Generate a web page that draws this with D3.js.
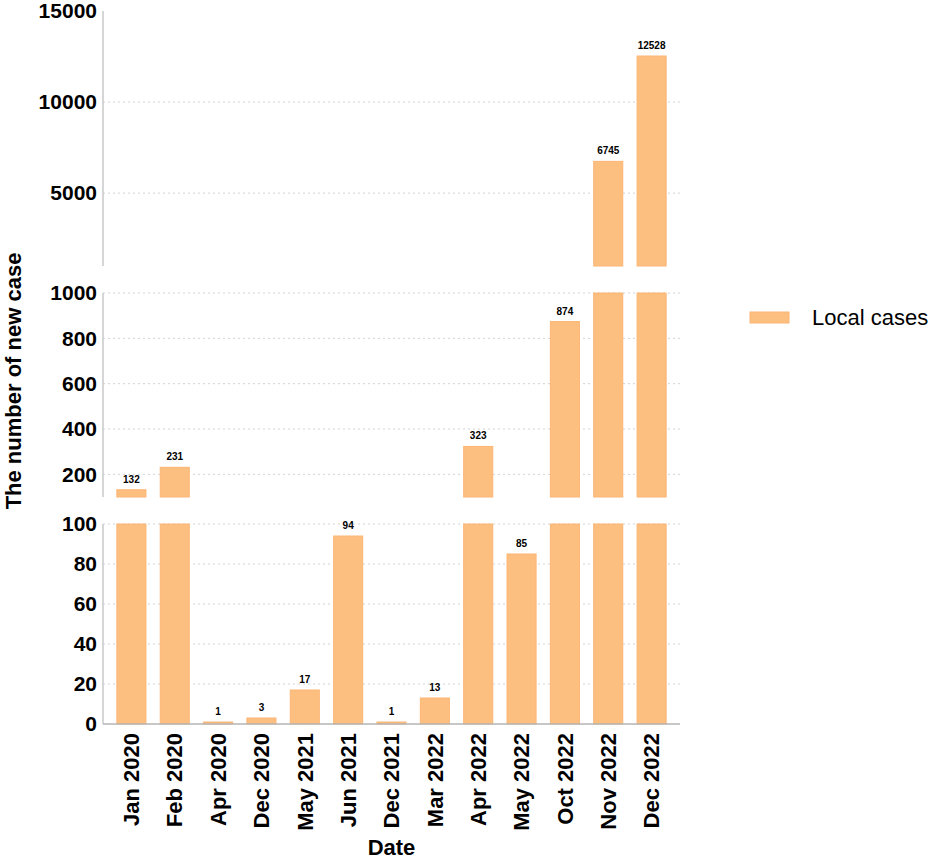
<!DOCTYPE html>
<html>
<head>
<meta charset="utf-8">
<script src="https://cdn.jsdelivr.net/npm/d3@7"></script>
<style>
  body { margin: 0; background: #fff; }
  svg text { font-family: "Liberation Sans", Arial, sans-serif; fill: #000; }
</style>
</head>
<body>
<div class="container"></div>
<script>
var months = ["Jan 2020","Feb 2020","Apr 2020","Dec 2020","May 2021","Jun 2021",
  "Dec 2021","Mar 2022","Apr 2022","May 2022","Oct 2022","Nov 2022","Dec 2022"];
var localCases = [132, 231, 1, 3, 17, 94, 1, 13, 323, 85, 874, 6745, 12528];

var lowDomain = [0, 100];
var midDomain = [100, 1000];
var topDomain = [1000, 15000];
var lowTicks = [0, 20, 40, 60, 80, 100];
var midTicks = [200, 400, 600, 800, 1000];
var topTicks = [5000, 10000, 15000];

const WIDTH = 935;
const HEIGHT = 860;
const LEFT = 103;
const RIGHT = 680;

var BAR_FILL = "#fdbf80";
var BAR_STROKE = "#fcb574";

// three stacked panels of the broken axis (top to bottom)
var panels = [
  {domain: topDomain, ticks: topTicks, range: [266, 11]},
  {domain: midDomain, ticks: midTicks, range: [497, 293]},
  {domain: lowDomain, ticks: lowTicks, range: [724, 524]}
];

var svg = d3.select('.container').append('svg')
  .attr('width', WIDTH)
  .attr('height', HEIGHT);

var xScale = d3.scaleBand()
  .domain(months)
  .range([LEFT, RIGHT])
  .paddingInner(0.33)
  .paddingOuter(0.32);

var drawPanel = function (panel) {
  var yScale = d3.scaleLinear()
    .domain(panel.domain)
    .range(panel.range);

  // dotted grid
  svg.append('g').selectAll('line')
    .data(panel.ticks.filter(function(d){ return d !== 0 && d !== topDomain[1]; }))
    .enter().append('line')
    .attr('x1', LEFT)
    .attr('x2', RIGHT)
    .attr('y1', function(d){ return yScale(d); })
    .attr('y2', function(d){ return yScale(d); })
    .attr('stroke', '#d3d3d3')
    .attr('stroke-width', 1)
    .attr('stroke-dasharray', '2,3');

  // left axis line for this piece
  svg.append('line')
    .attr('x1', LEFT).attr('x2', LEFT)
    .attr('y1', panel.range[0]).attr('y2', panel.range[1])
    .attr('stroke', '#c8c8c8')
    .attr('stroke-width', 1.5);

  var yAxis = d3.axisLeft(yScale)
    .tickValues(panel.ticks)
    .tickFormat(d3.format('d'))
    .tickSize(0)
    .tickPadding(6);

  var g = svg.append('g')
    .attr('transform', 'translate(' + LEFT + ',0)')
    .call(yAxis);
  g.select('.domain').remove();
  g.selectAll('text')
    .style('font-size', '21px')
    .style('font-weight', 'bold');

  var lo = panel.domain[0], hi = panel.domain[1];
  var idx = d3.range(localCases.length).filter(function(i){ return localCases[i] > lo; });

  svg.append('g').selectAll('rect')
    .data(idx)
    .enter().append('rect')
    .attr('x', function(i){ return xScale(months[i]); })
    .attr('width', xScale.bandwidth())
    .attr('y', function(i){ return yScale(Math.min(localCases[i], hi)); })
    .attr('height', function(i){ return yScale(lo) - yScale(Math.min(localCases[i], hi)); })
    .attr('fill', BAR_FILL)
    .attr('stroke', BAR_STROKE)
    .attr('stroke-width', 1);

  // value labels sit in the panel where the bar ends
  svg.append('g').selectAll('text')
    .data(idx.filter(function(i){ return localCases[i] <= hi; }))
    .enter().append('text')
    .attr('x', function(i){ return xScale(months[i]) + xScale.bandwidth() / 2; })
    .attr('y', function(i){ return yScale(localCases[i]) - 7; })
    .attr('text-anchor', 'middle')
    .style('font-size', '10px')
    .style('font-weight', 'bold')
    .text(function(i){ return localCases[i]; });
};

panels.forEach(function(each){
  drawPanel(each);
});

// x axis
svg.append('line')
  .attr('x1', LEFT).attr('x2', RIGHT)
  .attr('y1', 724).attr('y2', 724)
  .attr('stroke', '#b4b4b4')
  .attr('stroke-width', 1.5);

var xAxis = d3.axisBottom(xScale).tickSize(0);
var xg = svg.append('g')
  .attr('transform', 'translate(0,724)')
  .call(xAxis);
xg.select('.domain').remove();
xg.selectAll('text')
  .attr('x', -9)
  .attr('y', 0)
  .attr('dy', '0.35em')
  .attr('transform', 'rotate(-90)')
  .style('text-anchor', 'end')
  .style('font-size', '22px')
  .style('font-weight', 'bold');

// titles
svg.append('text')
  .attr('x', (LEFT + RIGHT) / 2)
  .attr('y', 855)
  .attr('text-anchor', 'middle')
  .style('font-size', '22px')
  .style('font-weight', 'bold')
  .text('Date');

svg.append('text')
  .attr('transform', 'translate(21,381) rotate(-90)')
  .attr('text-anchor', 'middle')
  .style('font-size', '22px')
  .style('font-weight', 'bold')
  .text('The number of new case');

// legend
svg.append('rect')
  .attr('x', 750).attr('y', 312)
  .attr('width', 39).attr('height', 11)
  .attr('fill', BAR_FILL)
  .attr('stroke', BAR_STROKE);

svg.append('text')
  .attr('x', 812)
  .attr('y', 325)
  .style('font-size', '22px')
  .text('Local cases');
</script>
</body>
</html>
